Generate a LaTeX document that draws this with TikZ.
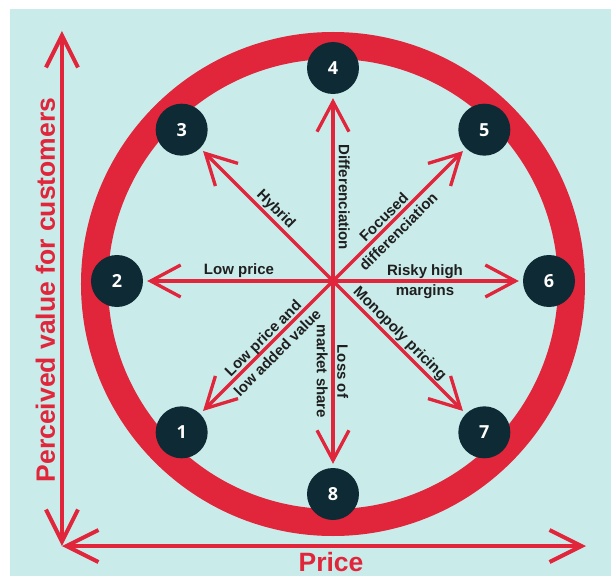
\documentclass[tikz,border=0pt]{standalone}
\usepackage{fontspec}
\setmainfont{Liberation Sans}
\newfontfamily\numfont{Open Sans}
\usetikzlibrary{arrows.meta}
\definecolor{myred}{HTML}{E1253B}
\definecolor{mybg}{HTML}{C9ECEA}
\definecolor{mynavy}{HTML}{0E2A35}
\definecolor{mytext}{HTML}{1F1F1F}
\newcommand{\twoline}[2]{\vtop{\baselineskip=20.5pt\lineskiplimit=-20pt\halign{\hfil##\hfil\cr #1\cr #2\cr}}}
\begin{document}
\begin{tikzpicture}[x=1pt,y=1pt,
  spoke/.style={draw=myred, line width=3.3pt, -{Straight Barb[length=30pt,width=32pt]}, shorten >=4pt},
  axisline/.style={draw=myred, line width=4pt, {Straight Barb[length=32pt,width=32pt]}-{Straight Barb[length=32pt,width=32pt]}},
  num/.style={circle, fill=mynavy, minimum size=52pt, inner sep=0pt, text=white, font=\numfont\bfseries\fontsize{18}{18}\selectfont},
  lbl/.style={font=\bfseries\fontsize{15}{18}\selectfont, text=mytext, inner sep=0pt},
  axlbl/.style={font=\bfseries\fontsize{26.5}{30}\selectfont, text=myred, inner sep=0pt}]
\useasboundingbox (-333,-295) rectangle (278,281);
\fill[white] (-333,-295) rectangle (278,281);
\fill[mybg] (-323,-295) rectangle (278,272);
\draw[myred, line width=27pt] (0,-3) circle[radius=238.5];
\coordinate (c) at (0,0);
\coordinate (o) at (-271,-265);
\coordinate (ytop) at (-271,250);
\coordinate (xend) at (253,-265);
\draw[axisline] (o) -- (ytop);
\draw[axisline] (o) -- (xend);
\node[num] (n1) at (225:214) {1};
\node[num] (n2) at (180:216) {2};
\node[num] (n3) at (135:214) {3};
\node[num] (n4) at (90:213) {4};
\node[num] (n5) at (45:214) {5};
\node[num] (n6) at (0:216) {6};
\node[num] (n7) at (-45:214) {7};
\node[num] (n8) at (-90:213) {8};
\foreach \n in {1,...,8} \draw[spoke] (c) -- (n\n);
\node[lbl, anchor=base] (lowprice) at (-94,7) {Low price};
\node[lbl, anchor=base] (risky) at (92,6) {\twoline{Risky high}{margins}};
\node[lbl, anchor=base, rotate=-90] (diff) at (6,83.5) {Differenciation};
\node[lbl, anchor=base, rotate=-45] (hybrid) at (-60.1,68.5) {Hybrid};
\node[lbl, anchor=base, rotate=45] (focused) at (54.5,60.1) {\twoline{Focused}{differenciation}};
\node[lbl, anchor=base, rotate=45] (lowadded) at (-66.4,-60.8) {\twoline{Low price and}{low added value}};
\node[lbl, anchor=base, rotate=-90] (loss) at (4.5,-90.5) {\twoline{Loss of}{market share}};
\node[lbl, anchor=base, rotate=-45] (mono) at (63.7,-55.7) {Monopoly pricing};
\node[axlbl, anchor=base, rotate=90] (ylab) at (-278,-9) {Perceived value for customers};
\node[axlbl, anchor=base] (xlab) at (-2,-290) {Price};
\end{tikzpicture}
\end{document}
